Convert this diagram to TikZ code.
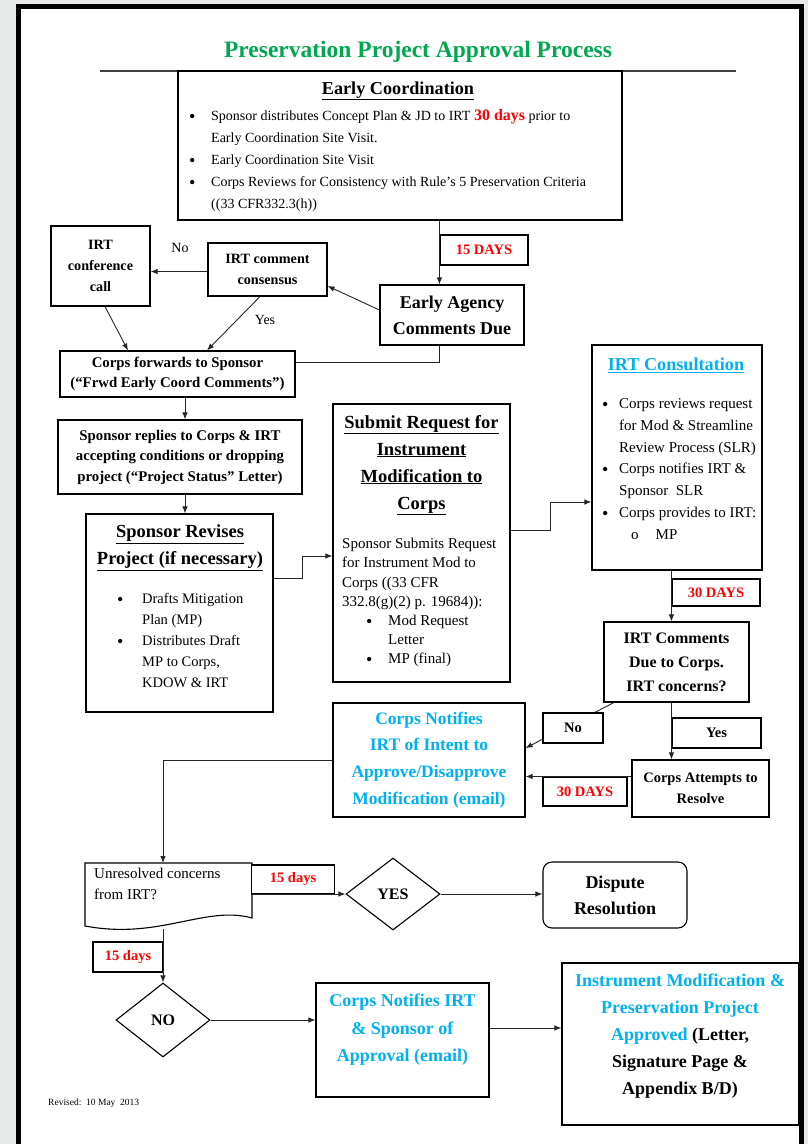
\documentclass[tikz,border=0pt]{standalone}
\usepackage{fontspec}
\setmainfont{Liberation Serif}
\usetikzlibrary{shapes.geometric,arrows.meta,calc}
\newcommand\fsz[2]{\fontsize{#1}{#2}\selectfont}
\newcommand\bul{\raisebox{-1.8pt}{\fontsize{18}{18}\selectfont\textbullet}}
\definecolor{tgreen}{RGB}{0,168,80}
\definecolor{tblue}{RGB}{0,176,240}
\definecolor{tred}{RGB}{255,0,0}
\definecolor{bggray}{RGB}{231,233,233}
\begin{document}
\begin{tikzpicture}[x=1pt,y=-1pt,
  box/.style={draw=black, line width=1.1pt, fill=white, inner sep=0pt, align=center},
  sz/.style 2 args={minimum width=#1pt, minimum height=#2pt},
  lbl/.style={box, text=tred, font=\bfseries\fsz{14.5}{16}},
  conn/.style={draw=black!85, line width=0.9pt, -{Latex[length=7pt,width=5.5pt]}},
  ln/.style={draw=black!85, line width=0.9pt},
  txt/.style={inner sep=0pt, align=center},
  dia/.style={draw=black, line width=1.1pt, diamond, fill=white, inner sep=0pt, font=\bfseries\fsz{16}{18}}]
\useasboundingbox (0,0) rectangle (808,1144);
\fill[bggray] (0,0) rectangle (808,1144);
\fill[black] (16,4) rectangle (804,1144);
\fill[white] (21,9) rectangle (799,1144);

% title
\node[txt, text=tgreen, font=\bfseries\fsz{23.5}{28}] (title) at (418,52) {Preservation Project Approval Process};
\draw[line width=1.3pt, black!75] (100,71) -- (736,71);

% early coordination
\node[box, sz={444}{149}] (ec) at (400,145.5) {};
\node[txt, font=\bfseries\fsz{18.2}{22}] (ectitle) at (398,91) {\underline{Early Coordination}};
\node[anchor=north west, inner sep=0pt, font=\fsz{14}{22}] (ecbody) at (189,105) {\begin{tabular}{@{}p{22pt}@{}l@{}}
\bul & Sponsor distributes Concept Plan \& JD to IRT {\color{tred}\bfseries\fsz{16}{22}30 days} prior to\\
 & Early Coordination Site Visit.\\
\bul & Early Coordination Site Visit\\
\bul & Corps Reviews for Consistency with Rule’s 5 Preservation Criteria\\
 & ((33 CFR332.3(h))
\end{tabular}};

\node[lbl, sz={88}{30}] (d15a) at (484,250) {15 DAYS};
\node[box, sz={144}{60}, font=\bfseries\fsz{18}{26}] (ea) at (452,315) {Early Agency\\Comments Due};
\draw[conn] (ec.south -| d15a.west) -- (ea.north -| d15a.west);

\node[box, sz={119}{53}, font=\bfseries\fsz{14.2}{21}] (cons) at (267.5,269.5) {IRT comment\\consensus};
\node[box, sz={99}{80}, font=\bfseries\fsz{14.2}{21}] (conf) at (100.5,266) {IRT\\conference\\call};
\node[txt, font=\fsz{14}{16}] (nolbl) at (180,248) {No};
\draw[conn] ([yshift=5pt]ea.west) -- ([yshift=-16.5pt]cons.east);
\draw[conn] ([yshift=-2pt]cons.west) -- ([yshift=-2pt]cons.west -| conf.east);

\node[box, sz={235}{46}, font=\bfseries\fsz{14.8}{20}] (cf) at (177.5,374) {Corps forwards to Sponsor\\(“Frwd Early Coord Comments”)};
\draw[conn] ([xshift=-7.5pt]cons.south) -- ([xshift=29.5pt]cf.north);
\node[txt, font=\fsz{14}{16}] (yeslbl) at (265,320) {Yes};
\draw[conn] ([xshift=4.5pt]conf.south) -- ([xshift=-49.5pt]cf.north);
\draw[ln] (ea.south -| d15a.west) |- ([yshift=12pt]cf.east);

\node[box, sz={244}{74}, font=\bfseries\fsz{14.8}{20.5}] (sr) at (180,457) {Sponsor replies to Corps \& IRT\\accepting conditions or dropping\\project (“Project Status” Letter)};
\draw[conn] ([xshift=7.5pt]cf.south) -- ([xshift=5pt]sr.north);

% sponsor revises
\node[box, sz={187}{198}] (sv) at (179.5,613) {};
\draw[conn] ([xshift=5pt]sr.south) -- ([xshift=5.5pt]sv.north);
\node[txt, font=\bfseries\fsz{18.5}{27}] (svtitle) at (180,547.5) {\underline{Sponsor Revises}\\\underline{Project (if necessary)}};
\node[anchor=north west, inner sep=0pt, font=\fsz{14.5}{21}] (svbody) at (117,589) {\begin{tabular}{@{}p{25pt}@{}l@{}}
\bul & Drafts Mitigation\\
 & Plan (MP)\\
\bul & Distributes Draft\\
 & MP to Corps,\\
 & KDOW \& IRT
\end{tabular}};

% submit request
\node[box, sz={177}{278}] (sub) at (421.5,543) {};
\node[txt, font=\bfseries\fsz{18.5}{27}] (subtitle) at (421.5,465) {\underline{Submit Request for}\\\underline{Instrument}\\\underline{Modification to}\\\underline{Corps}};
\node[anchor=north west, inner sep=0pt, font=\fsz{15}{19.2}] (subbody) at (342,535) {\begin{tabular}{@{}p{24pt}@{}p{22pt}@{}l@{}}
\multicolumn{3}{@{}l@{}}{Sponsor Submits Request}\\
\multicolumn{3}{@{}l@{}}{for Instrument Mod to}\\
\multicolumn{3}{@{}l@{}}{Corps ((33 CFR}\\
\multicolumn{3}{@{}l@{}}{332.8(g)(2) p. 19684)):}\\
 & \bul & Mod Request\\
 & & Letter\\
 & \bul & MP (final)
\end{tabular}};
\draw[conn] ([yshift=35pt]sv.east) -- ++(29,0) |- ([yshift=-13pt]sub.west);

% IRT consultation
\node[box, sz={170}{225}] (ic) at (677,457.5) {};
\draw[conn] ([yshift=13pt]sub.east) -- ++(40,0) |- ([yshift=-44.5pt]ic.west);
\node[txt, text=tblue, font=\bfseries\fsz{18.2}{22}] (ictitle) at (676,365) {\underline{IRT Consultation}};
\node[anchor=north west, inner sep=0pt, font=\fsz{15}{21.8}] (icbody) at (602,393) {\begin{tabular}{@{}p{17pt}@{}l@{}}
\bul & Corps reviews request\\
 & for Mod \& Streamline\\
 & Review Process (SLR)\\
\bul & Corps notifies IRT \&\\
 & Sponsor\ \ SLR\\
\bul & Corps provides to IRT:\\
 & \hspace{12pt}o\hspace{17pt}MP
\end{tabular}};

\node[lbl, sz={88}{27}] (d30a) at (716,592.5) {30 DAYS};
\node[box, sz={145}{80}, font=\bfseries\fsz{16}{24}] (irc) at (676.5,662) {IRT Comments\\Due to Corps.\\IRT concerns?};
\draw[conn] (ic.south -| d30a.west) -- (irc.north -| d30a.west);

% notify intent
\node[box, sz={192}{114}, text=tblue, font=\bfseries\fsz{17.5}{26.7}] (cn) at (429,760) {Corps Notifies\\IRT of Intent to\\Approve/Disapprove\\Modification (email)};
\node[box, sz={137}{57}, font=\bfseries\fsz{14.5}{21}] (ca) at (700.5,788.5) {Corps Attempts to\\Resolve};
\node[box, sz={89}{30}, font=\bfseries\fsz{14.5}{16}] (yesb) at (716.5,733) {Yes};
\draw[conn] (irc.south -| yesb.west) -- (ca.north -| yesb.west);
\draw[conn] ([xshift=-62.5pt]irc.south) -- ([yshift=12pt]cn.east);
\node[box, sz={60}{30}, font=\bfseries\fsz{14.5}{16}] (nob) at (573,728) {No};
\node[lbl, sz={84}{29}] (d30b) at (585,791.5) {30 DAYS};
\draw[conn] (ca.west |- d30b.north) -- (cn.east |- d30b.north);

% unresolved document
\draw[line width=1.1pt, fill=white] (85,863) -- (252,863) -- (252,918) .. controls (205,905) and (160,940) .. (85,926) -- cycle;
\node[anchor=north west, inner sep=0pt, align=left, font=\fsz{15}{21}] (un) at (94,868) {Unresolved concerns\\from IRT?};
\coordinate (unN) at (163,863);
\coordinate (unE) at (252,894);
\coordinate (unS) at (163,929);
\draw[conn] (cn.west) -| (unN);

\node[lbl, sz={83}{29}] (d15b) at (293,879.5) {15 days};
\node[dia, minimum width=94pt, minimum height=72pt] (yesd) at (393,894) {YES};
\draw[conn] (unE) -- (yesd.west);
\node[box, rounded corners=9pt, sz={144}{66}, font=\bfseries\fsz{18}{26}] (dr) at (615,895) {Dispute\\Resolution};
\draw[conn] (yesd.east) -- (dr.west |- yesd.east);

\node[lbl, sz={70}{30}] (d15c) at (128,957) {15 days};
\node[dia, minimum width=94pt, minimum height=74pt] (nod) at (163,1020) {NO};
\draw[conn] (unS) -- (nod.north);

\node[box, sz={173}{114}] (cns) at (402.5,1040) {};
\node[txt, text=tblue, font=\bfseries\fsz{18}{27.5}] (cnstext) at (402.5,1030) {Corps Notifies IRT\\\& Sponsor of\\Approval (email)};
\draw[conn] (nod.east) -- (nod.east -| cns.west);

\node[box, sz={237}{162}] (fin) at (680.5,1044) {};
\node[txt, font=\bfseries\fsz{18}{27}] (fintext) at (680,1036) {\textcolor{tblue}{Instrument Modification \&}\\\textcolor{tblue}{Preservation Project}\\\textcolor{tblue}{Approved} (Letter,\\Signature Page \&\\Appendix B/D)};
\draw[conn] ([yshift=12pt]cns.east) -- ([yshift=12pt]cns.east -| fin.west);

\node[anchor=west, inner sep=0pt, font=\fsz{9.5}{11}] (rev) at (48,1103) {Revised:\ \ 10 May\ \ 2013};
\end{tikzpicture}
\end{document}
